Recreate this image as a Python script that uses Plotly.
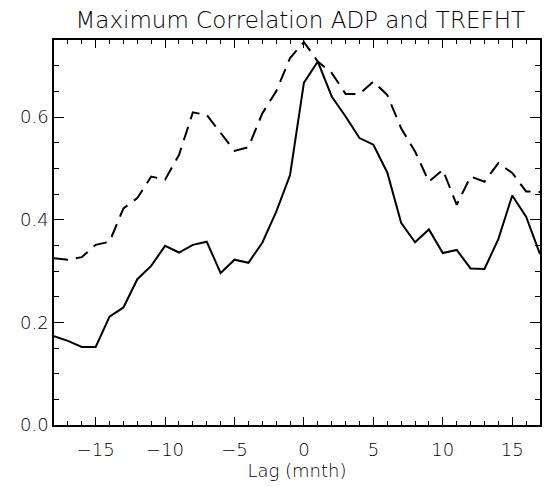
import plotly.graph_objects as go

lags = list(range(-18, 18))
solid_corr = [0.173, 0.164, 0.152, 0.152, 0.211, 0.229, 0.284, 0.310, 0.349, 0.336,
              0.351, 0.357, 0.296, 0.322, 0.316, 0.355, 0.415, 0.487, 0.667, 0.708,
              0.640, 0.601, 0.559, 0.546, 0.492, 0.394, 0.356, 0.381, 0.335, 0.341,
              0.305, 0.304, 0.362, 0.447, 0.406, 0.333]
dashed_corr = [0.325, 0.322, 0.327, 0.351, 0.357, 0.422, 0.442, 0.484, 0.478, 0.526,
               0.609, 0.604, 0.569, 0.534, 0.541, 0.607, 0.650, 0.715, 0.746, 0.708,
               0.686, 0.645, 0.645, 0.669, 0.643, 0.578, 0.533, 0.474, 0.497, 0.429,
               0.484, 0.474, 0.510, 0.491, 0.455, 0.454]

title_text = "Maximum Correlation ADP and TREFHT"
x_title = "Lag (mnth)"

font_family = "DejaVu Sans"
txt_color = "#000"

fig = go.Figure()
fig.add_trace(go.Scatter(x=lags, y=dashed_corr, mode="lines",
                         line=dict(color="black", width=2, dash="14px,8px"),
                         showlegend=False))
fig.add_trace(go.Scatter(x=lags, y=solid_corr, mode="lines",
                         line=dict(color="black", width=2),
                         showlegend=False))

axis_common = dict(showline=True, linecolor="black", linewidth=1.5, mirror="ticks",
                   ticks="inside", tickcolor="black", tickwidth=1, showgrid=False,
                   zeroline=False, automargin=False,
                   tickfont=dict(family=font_family, size=18, color=txt_color, weight=200))

fig.update_layout(
    width=556, height=487,
    margin=dict(l=54, r=16, t=40, b=62, autoexpand=False),
    paper_bgcolor="white", plot_bgcolor="white",
    title=dict(text=title_text, x=0.54, xanchor="center", y=0.943, yanchor="bottom",
               font=dict(family=font_family, size=23, color=txt_color, weight=200)),
    xaxis=dict(range=[-18, 17], tick0=0, dtick=5, ticklen=8, ticklabelstandoff=8,
               minor=dict(dtick=1, ticks="inside", ticklen=4, tickcolor="black"),
               title=dict(text=x_title, font=dict(family=font_family, size=18, color=txt_color, weight=200), standoff=2),
               **axis_common),
    yaxis=dict(range=[0, 0.75], tick0=0, dtick=0.2, tickformat=".1f", ticklen=10,
               minor=dict(dtick=0.05, ticks="inside", ticklen=5, tickcolor="black"),
               **axis_common),
)

fig.write_html("out.html", config={"displayModeBar": False},
               post_script="document.body.style.margin='0';document.body.style.padding='0';")
